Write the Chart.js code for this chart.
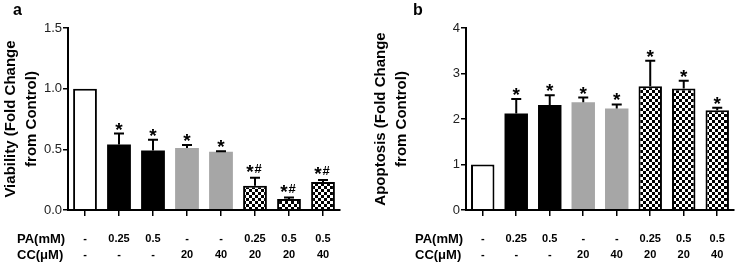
<!DOCTYPE html>
<html>
<head>
<meta charset="utf-8">
<script src="https://cdn.jsdelivr.net/npm/chart.js@4.4.1/dist/chart.umd.min.js"></script>
<style>
  html, body { margin: 0; padding: 0; background: #fff; }
  #wrap { position: relative; width: 740px; height: 263px; overflow: hidden; }
  canvas { position: absolute; top: 0; }
</style>
</head>
<body>
<div id="wrap">
  <canvas id="chartA" width="370" height="263" style="left:0"></canvas>
  <canvas id="chartB" width="370" height="263" style="left:370px"></canvas>
</div>
<script>
// treatment table (x axis)
const paLabels = ['-', '0.25', '0.5', '-', '-', '0.25', '0.5', '0.5'];
const ccLabels = ['-', '-', '-', '20', '40', '20', '20', '40'];

// panel a - viability
const viability = [1.0, 0.54, 0.49, 0.51, 0.48, 0.20, 0.09, 0.23];
const viabilityErr = [0, 0.09, 0.09, 0.025, 0.005, 0.065, 0.012, 0.018];
const viabilityMarks = ['', '*', '*', '*', '*', '*#', '*#', '*#'];
const viabilityTicks = [0, 0.5, 1.0, 1.5];

// panel b - apoptosis
const apoptosis = [1.0, 2.12, 2.31, 2.37, 2.23, 2.72, 2.67, 2.19];
const apoptosisErr = [0, 0.32, 0.21, 0.10, 0.09, 0.56, 0.17, 0.06];
const apoptosisMarks = ['', '*', '*', '*', '*', '*', '*', '*'];
const apoptosisTicks = [0, 1, 2, 3, 4];

const FONT = '"Liberation Sans", Arial, sans-serif';
const GRAY = '#a6a6a6';

// checkerboard fill
function makeChecker() {
  const c = document.createElement('canvas');
  c.width = 6; c.height = 6;
  const g = c.getContext('2d');
  g.fillStyle = '#fff'; g.fillRect(0, 0, 6, 6);
  g.fillStyle = '#000'; g.fillRect(0, 0, 3, 3); g.fillRect(3, 3, 3, 3);
  return g.createPattern(c, 'repeat');
}
const checker = makeChecker();
const fills = ['#fff', '#000', '#000', GRAY, GRAY, checker, checker, checker];
const borders = ['#000', '#000', '#000', GRAY, GRAY, '#000', '#000', '#000'];
const borderW = [2, 0, 0, 0, 0, 2, 2, 2];

// error bars, stars, row headers, panel letter
const extras = {
  id: 'extras',
  afterDatasetsDraw(chart, args, opts) {
    const ctx = chart.ctx, xs = chart.scales.x, ys = chart.scales.y;
    const vals = chart.data.datasets[0].data;
    ctx.save();
    ctx.strokeStyle = '#000';
    ctx.lineWidth = 2;
    ctx.fillStyle = '#000';
    opts.errors.forEach((e, i) => {
      const px = xs.getPixelForValue(i);
      const top = ys.getPixelForValue(vals[i] + e);
      if (e > 0) {
        ctx.beginPath();
        ctx.moveTo(px, ys.getPixelForValue(vals[i]));
        ctx.lineTo(px, top);
        ctx.moveTo(px - 5, top);
        ctx.lineTo(px + 5, top);
        ctx.stroke();
      }
      const m = opts.marks[i];
      if (!m) return;
      ctx.textAlign = 'center';
      ctx.textBaseline = 'alphabetic';
      const hash = m.includes('#');
      ctx.font = 'bold 19px ' + FONT;
      ctx.fillText('*', hash ? px - 5 : px, hash ? top : top + 2);
      if (hash) {
        ctx.font = 'bold 13px ' + FONT;
        ctx.fillText('#', px + 3, top - 5);
      }
    });
    const left = chart.chartArea.left;
    const bottom = chart.chartArea.bottom;
    ctx.font = 'bold 13px ' + FONT;
    ctx.textAlign = 'left';
    ctx.textBaseline = 'middle';
    ctx.fillText('PA(mM)', left - 51, bottom + 29);
    ctx.fillText('CC(\u03bcM)', left - 51, bottom + 45);
    ctx.font = 'bold 16px ' + FONT;
    ctx.textBaseline = 'alphabetic';
    ctx.fillText(opts.letter, opts.letterX, 15);
    ctx.restore();
  }
};

function makeChart(id, values, errors, marks, ticks, title, letter, letterX, axisX, padRight, fmt) {
  return new Chart(document.getElementById(id), {
    type: 'bar',
    data: {
      labels: paLabels.map((p, i) => [p, ccLabels[i]]),
      datasets: [{
        data: values,
        backgroundColor: fills,
        borderColor: borders,
        borderWidth: borderW,
        borderSkipped: 'bottom',
        categoryPercentage: 1,
        barPercentage: 0.7
      }]
    },
    options: {
      responsive: false,
      devicePixelRatio: 1,
      animation: false,
      layout: { padding: { top: 28, right: padRight, bottom: 0, left: 0 } },
      plugins: {
        legend: { display: false },
        tooltip: { enabled: false },
        extras: { errors: errors, marks: marks, letter: letter, letterX: letterX }
      },
      scales: {
        x: {
          grid: { drawOnChartArea: false, offset: false, color: '#000', tickLength: 6, lineWidth: 1.5 },
          border: { color: '#000', width: 2, z: 1 },
          ticks: {
            color: '#000',
            padding: 15,
            font: { family: FONT, size: 11, weight: 'bold', lineHeight: 16 / 11 }
          },
          afterFit(s) { s.height = 53; }
        },
        y: {
          min: ticks[0],
          max: ticks[ticks.length - 1],
          afterBuildTicks(s) { s.ticks = ticks.map(v => ({ value: v })); },
          grid: { drawOnChartArea: false, color: '#000', tickLength: 5, lineWidth: 1.5 },
          border: { color: '#000', width: 2 },
          ticks: {
            color: '#222',
            padding: 1,
            font: { family: FONT, size: 13 },
            callback: fmt
          },
          title: {
            display: true,
            text: title,
            color: '#000',
            padding: { top: 0, bottom: 0 },
            font: { family: FONT, size: 15, weight: 'bold', lineHeight: 1.4 }
          },
          afterFit(s) { s.width = axisX; }
        }
      }
    },
    plugins: [extras]
  });
}

makeChart('chartA', viability, viabilityErr, viabilityMarks, viabilityTicks,
  ['Viability (Fold Change', 'from Control)'], 'a', 13, 68, 30, v => v.toFixed(1));
makeChart('chartB', apoptosis, apoptosisErr, apoptosisMarks, apoptosisTicks,
  ['Apoptosis (Fold Change', 'from Control)'], 'b', 43, 96, 2, v => String(v));
</script>
</body>
</html>
